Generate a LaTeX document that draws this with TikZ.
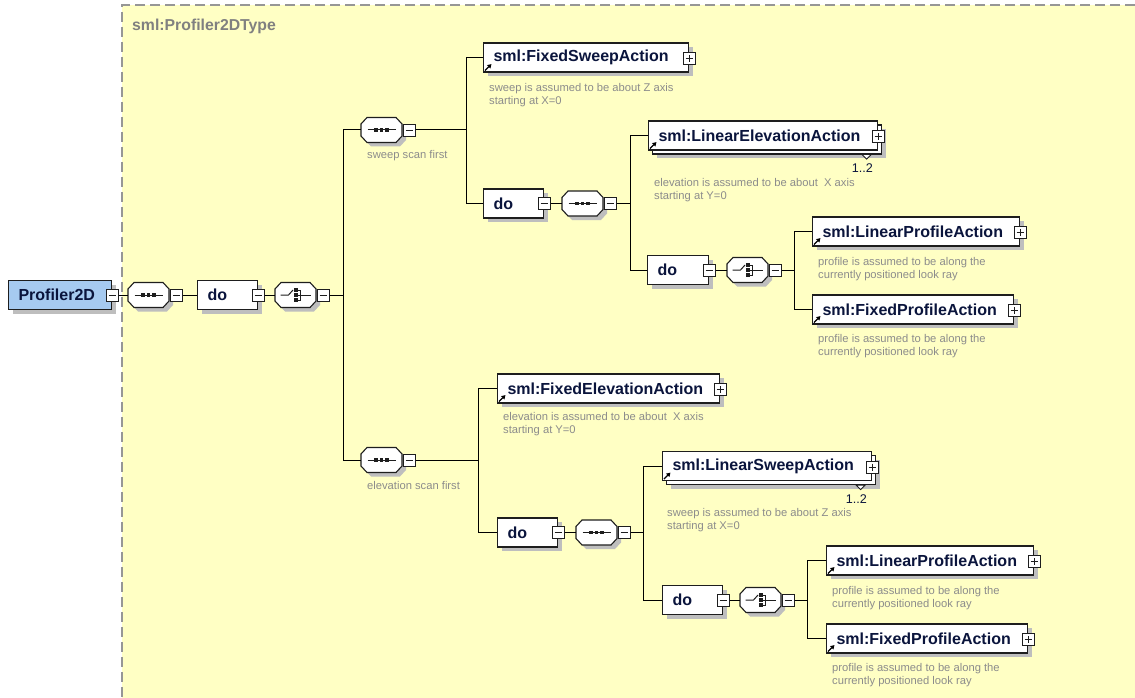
\documentclass[tikz,border=0pt]{standalone}
\usepackage{fontspec}
\setmainfont{Liberation Sans}
\usetikzlibrary{shadows,arrows.meta}

\definecolor{bgyellow}{RGB}{255,255,196}
\definecolor{framegray}{RGB}{150,150,150}
\definecolor{titlegray}{RGB}{128,128,128}
\definecolor{shadowgray}{RGB}{190,190,190}
\definecolor{boxline}{RGB}{30,30,30}
\definecolor{labeltext}{RGB}{10,20,60}
\definecolor{notegray}{RGB}{140,140,140}
\definecolor{rootblue}{RGB}{166,202,240}

% octagonal outline (with shadow) of a compositor node
\newcommand\xsoct[1]{%
  \begin{scope}[shift={(#1.center)}]
    \fill[shadowgray, shift={(4,4)}] (-20.5,-6) -- (-14.5,-12.5) -- (14.5,-12.5) -- (20.5,-6)
      -- (20.5,6) -- (14.5,12.5) -- (-14.5,12.5) -- (-20.5,6) -- cycle;
    \filldraw[fill=white, draw=boxline, line width=1.1pt] (-20.5,-6) -- (-14.5,-12.5) -- (14.5,-12.5) -- (20.5,-6)
      -- (20.5,6) -- (14.5,12.5) -- (-14.5,12.5) -- (-20.5,6) -- cycle;
  \end{scope}
}
% sequence compositor glyph: a line with three dots
\newcommand\xsseq[1]{%
  \xsoct{#1}
  \draw[icon] ([xshift=-14pt]#1.center) -- ([xshift=14pt]#1.center);
  \foreach \d in {-5.5,0,5.5}
    \fill[boxline] ([xshift=\d pt]#1.center) +(-1.8pt,-1.8pt) rectangle +(1.8pt,1.8pt);
}
% choice compositor glyph: a switch in front of three dots
\newcommand\xschoice[1]{%
  \xsoct{#1}
  \draw[icon] ([xshift=-15pt]#1.center) -- ([xshift=-7pt]#1.center) -- ([xshift=-2.5pt,yshift=5pt]#1.center);
  \foreach \d in {-5,0,5}
    \fill[boxline] ([xshift=0.5pt,yshift=\d pt]#1.center) +(-1.6pt,-1.6pt) rectangle +(1.6pt,1.6pt);
  \draw[icon] ([xshift=2pt,yshift=5pt]#1.center) -| ([xshift=5pt,yshift=-5pt]#1.center) -- ([xshift=2pt,yshift=-5pt]#1.center);
  \draw[icon] ([xshift=2pt]#1.center) -- ([xshift=15pt]#1.center);
}
% small reference arrow in the lower left corner of an element
\newcommand\xsref[1]{%
  \draw[refarrow] ([xshift=2pt,yshift=2pt]#1.south west) -- ++(6.5,-6.5);
}
% occurrence marker of a repeated element
\newcommand\xsmany[1]{%
  \draw[boxline, line width=0.9pt, fill=white] ([xshift=-16pt,yshift=-4pt]#1.south east) -- ++(9,0) -- ++(-4.5,4.5) -- cycle;
  \node[occurs] (#1n) at ([xshift=-5pt,yshift=-18pt]#1.south east) {1..2};
}

\tikzset{
  conn/.style={draw=black, line width=1pt},
  icon/.style={draw=boxline, line width=1pt},
  boxshadow/.style={general shadow={fill=shadowgray, draw=none, shadow xshift=4pt, shadow yshift=-4pt}},
  elembase/.style={rectangle, draw=boxline, line width=1.1pt, fill=white, minimum height=29pt,
    inner xsep=10pt, inner ysep=0pt, anchor=west, align=left, text=labeltext,
    font=\fontsize{16}{19}\selectfont\bfseries},
  elem/.style={elembase, boxshadow},
  stacked/.style={elembase,
    general shadow={fill=shadowgray, draw=none, shadow xshift=8pt, shadow yshift=-8pt},
    general shadow={fill=white, draw=boxline, line width=1.1pt, shadow xshift=4pt, shadow yshift=-4pt}},
  wd/.style 2 args={minimum width=#1pt, text width=#2pt},
  comp/.style={rectangle, draw=none, minimum width=41pt, minimum height=25pt, inner sep=0pt},
  xsminus/.style={rectangle, draw=boxline, line width=0.9pt, fill=white, minimum size=12pt, inner sep=0pt,
    path picture={\draw[boxline, line width=0.9pt] ([xshift=2.5pt]path picture bounding box.west) -- ([xshift=-2.5pt]path picture bounding box.east);}},
  xsplus/.style={rectangle, draw=boxline, line width=0.9pt, fill=white, minimum size=12pt, inner sep=0pt,
    path picture={\draw[boxline, line width=0.9pt] ([xshift=2.5pt]path picture bounding box.west) -- ([xshift=-2.5pt]path picture bounding box.east)
      ([yshift=-2.5pt]path picture bounding box.north) -- ([yshift=2.5pt]path picture bounding box.south);}},
  note/.style={anchor=north west, inner sep=0pt, align=left, text=notegray, font=\fontsize{11.2}{12.8}\selectfont},
  occurs/.style={anchor=east, inner sep=0pt, text=labeltext, font=\fontsize{12.6}{14}\selectfont},
  refarrow/.style={draw=black, line width=1.3pt, -{Triangle[length=4pt,width=4.5pt]}},
}

\begin{document}
\begin{tikzpicture}[x=1pt,y=-1pt]
\useasboundingbox (0,0) rectangle (1135,698);
\fill[white] (0,0) rectangle (1135,698);
\fill[bgyellow] (122,5) rectangle (1135,698);
\draw[framegray, line width=1.5pt, dash pattern=on 10pt off 5pt] (1135,5) -- (122,5) -- (122,698);
\node[anchor=west, inner sep=0pt, text=titlegray, font=\fontsize{15.8}{18}\selectfont\bfseries] (title) at (132,26) {sml:Profiler2DType};

% root element and its content model
\node[elem, wd={103}{83}, fill=rootblue] (root) at (8,295) {Profiler2D};
\node[xsminus] (rootm) at (root.east) {};
\node[comp] (sA) at (148.5,295) {}; \xsseq{sA}
\node[xsminus] (sAm) at ([xshift=7pt]sA.east) {};
\node[elem, wd={60}{40}] (dA) at (197,295) {do};
\node[xsminus] (dAm) at (dA.east) {};
\node[comp] (cA) at (295.5,295) {}; \xschoice{cA}
\node[xsminus] (cAm) at ([xshift=7pt]cA.east) {};
\draw[conn] (rootm.east) -- (sA.west);
\draw[conn] (sAm.east) -- (dA.west);
\draw[conn] (dAm.east) -- (cA.west);

% sweep scan first
\node[comp] (s1) at (381.5,130) {}; \xsseq{s1}
\node[xsminus] (s1m) at ([xshift=7pt]s1.east) {};
\node[note, anchor=west] (s1note) at (367,156) {sweep scan first};
\draw[conn] (cAm.east) -- ++(14,0) |- (s1.west);

\node[elem, wd={205}{185}] (fsa) at (483,57.5) {sml:FixedSweepAction};
\node[xsplus] (fsap) at ([yshift=-1pt]fsa.east) {};
\xsref{fsa}
\node[note] (fsanote) at (489,83) {sweep is assumed to be about Z axis\\starting at X=0};

\node[elem, wd={60}{40}] (dB) at (483,203.5) {do};
\node[xsminus] (dBm) at (dB.east) {};
\node[comp] (sB) at (582.5,203.5) {}; \xsseq{sB}
\node[xsminus] (sBm) at ([xshift=7pt]sB.east) {};
\draw[conn] (s1m.east) -- ++(51,0) |- (fsa.west);
\draw[conn] (s1m.east) -- ++(51,0) |- (dB.west);
\draw[conn] (dBm.east) -- (sB.west);

\node[stacked, wd={229}{209}] (lea) at (648,135.5) {sml:LinearElevationAction};
\node[xsplus] (leap) at ([yshift=-1pt]lea.east) {};
\xsref{lea}
\xsmany{lea}
\node[note] (leanote) at (654,178) {elevation is assumed to be about\ \ X axis\\starting at Y=0};

\node[elem, wd={61}{41}] (dC) at (647,270) {do};
\node[xsminus] (dCm) at (dC.east) {};
\node[comp] (cC) at (747.5,270) {}; \xschoice{cC}
\node[xsminus] (cCm) at ([xshift=7pt]cC.east) {};
\draw[conn] (sBm.east) -- ++(14,0) |- (lea.west);
\draw[conn] (sBm.east) -- ++(14,0) |- (dC.west);
\draw[conn] (dCm.east) -- (cC.west);

\node[elem, wd={207}{187}] (lpa1) at (812,231.5) {sml:LinearProfileAction};
\node[xsplus] (lpa1p) at ([yshift=-1pt]lpa1.east) {};
\xsref{lpa1}
\node[note] (lpa1note) at (818,257) {profile is assumed to be along the\\currently positioned look ray};
\node[elem, wd={201}{181}] (fpa1) at (812,309.5) {sml:FixedProfileAction};
\node[xsplus] (fpa1p) at ([yshift=-1pt]fpa1.east) {};
\xsref{fpa1}
\node[note] (fpa1note) at (818,334) {profile is assumed to be along the\\currently positioned look ray};
\draw[conn] (cCm.east) -- ++(13,0) |- (lpa1.west);
\draw[conn] (cCm.east) -- ++(13,0) |- (fpa1.west);

% elevation scan first
\node[comp] (s2) at (381.5,460) {}; \xsseq{s2}
\node[xsminus] (s2m) at ([xshift=7pt]s2.east) {};
\node[note, anchor=west] (s2note) at (367,485) {elevation scan first};
\draw[conn] (cAm.east) -- ++(14,0) |- (s2.west);

\node[elem, wd={222}{202}] (fea) at (497,388.5) {sml:FixedElevationAction};
\node[xsplus] (feap) at ([yshift=-1pt]fea.east) {};
\xsref{fea}
\node[note] (feanote) at (503,412) {elevation is assumed to be about\ \ X axis\\starting at Y=0};

\node[elem, wd={60}{40}] (dD) at (497,532.5) {do};
\node[xsminus] (dDm) at (dD.east) {};
\node[comp] (sD) at (596.5,532.5) {}; \xsseq{sD}
\node[xsminus] (sDm) at ([xshift=7pt]sD.east) {};
\draw[conn] (s2m.east) -- ++(63,0) |- (fea.west);
\draw[conn] (s2m.east) -- ++(63,0) |- (dD.west);
\draw[conn] (dDm.east) -- (sD.west);

\node[stacked, wd={209}{189}] (lsa) at (662,466) {sml:LinearSweepAction};
\node[xsplus] (lsap) at ([yshift=-1pt]lsa.east) {};
\xsref{lsa}
\xsmany{lsa}
\node[note] (lsanote) at (667,508) {sweep is assumed to be about Z axis\\starting at X=0};

\node[elem, wd={60}{40}] (dE) at (662,600) {do};
\node[xsminus] (dEm) at (dE.east) {};
\node[comp] (cE) at (760.5,600) {}; \xschoice{cE}
\node[xsminus] (cEm) at ([xshift=7pt]cE.east) {};
\draw[conn] (sDm.east) -- ++(13,0) |- (lsa.west);
\draw[conn] (sDm.east) -- ++(13,0) |- (dE.west);
\draw[conn] (dEm.east) -- (cE.west);

\node[elem, wd={207}{187}] (lpa2) at (826,560.5) {sml:LinearProfileAction};
\node[xsplus] (lpa2p) at ([yshift=-1pt]lpa2.east) {};
\xsref{lpa2}
\node[note] (lpa2note) at (832,586) {profile is assumed to be along the\\currently positioned look ray};
\node[elem, wd={201}{181}] (fpa2) at (826,638.5) {sml:FixedProfileAction};
\node[xsplus] (fpa2p) at ([yshift=-1pt]fpa2.east) {};
\xsref{fpa2}
\node[note] (fpa2note) at (832,663) {profile is assumed to be along the\\currently positioned look ray};
\draw[conn] (cEm.east) -- ++(13,0) |- (lpa2.west);
\draw[conn] (cEm.east) -- ++(13,0) |- (fpa2.west);
\end{tikzpicture}
\end{document}
